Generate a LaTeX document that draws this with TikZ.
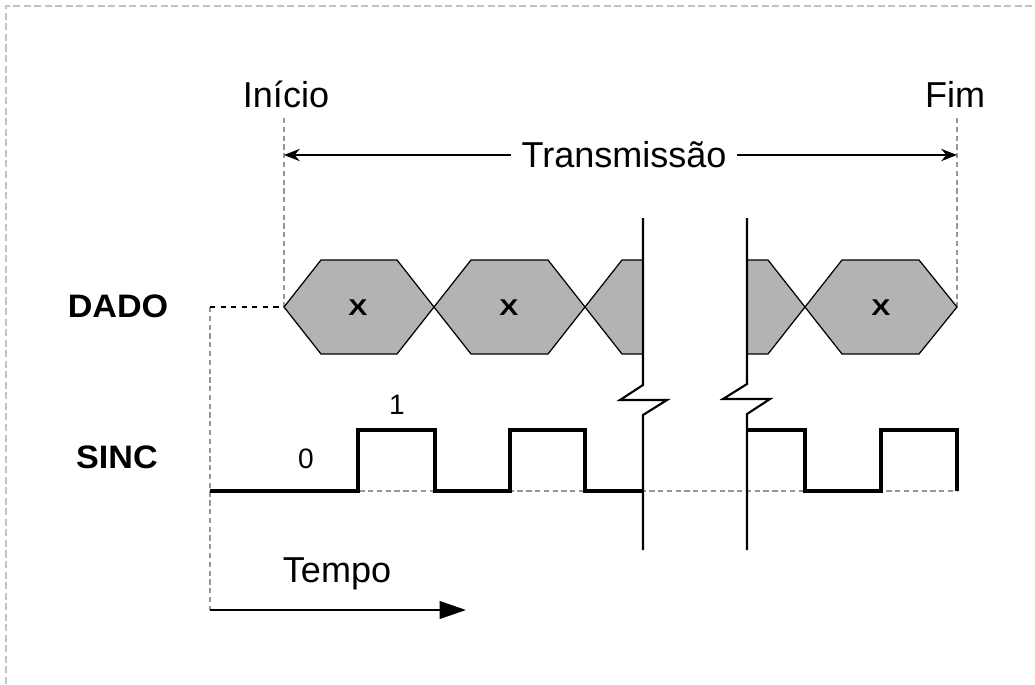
\documentclass[tikz,border=0pt]{standalone}
\usepackage{fontspec}
\setmainfont{Liberation Sans}
\usetikzlibrary{arrows.meta}

\begin{document}
\begin{tikzpicture}[x=0.02cm,y=-0.02cm,every node/.style={inner sep=0pt, outer sep=0pt},
  hexa/.style={fill={rgb,255:red,179;green,179;blue,179},draw=black,line width=0.7pt},
  guide/.style={draw={rgb,255:red,150;green,150;blue,150},dash pattern=on 3pt off 2pt,line width=0.9pt},
  wave/.style={line width=2.3pt},
  cut/.style={line width=1.2pt},
  big/.style={font=\fontsize{20.5}{24}\selectfont},
  tag/.style={font=\fontsize{18.5}{22}\selectfont\bfseries,xscale=1.05},
  bit/.style={font=\fontsize{13}{15}\selectfont\bfseries,xscale=1.25}]
\useasboundingbox (0,0) rectangle (1035,684);
\draw[draw={rgb,255:red,195;green,195;blue,195},dash pattern=on 4pt off 2pt,line width=0.6pt] (6,684) -- (6,6) -- (1035,6);
% pontos de referencia
\coordinate (ini) at (284,307);
\coordinate (iniTop) at (284,118);
\coordinate (iniSeta) at (284,155);
\coordinate (fim) at (957,307);
\coordinate (fimTop) at (957,118);
\coordinate (fimSeta) at (957,155);
\coordinate (orig) at (210,307);
\coordinate (base) at (210,491);
\coordinate (baseFim) at (957,491);
\coordinate (eixo) at (210,610);
\coordinate (eixoFim) at (466,610);
% textos
\node[big] (inicio) at (286,94) {Início};
\node[big] (fimtxt) at (955,94) {Fim};
\node[big,inner sep=6pt] (transm) at (624,155) {Transmissão};
\node[tag] (dado) at (118,306) {DADO};
\node[tag] (sinc) at (117,457) {SINC};
\node[font=\fontsize{16}{19}\selectfont] (zero) at (306,459) {0};
\node[font=\fontsize{16}{19}\selectfont] (um) at (397,405) {1};
\node[big] (tempo) at (337,574) {Tempo};
% guias
\draw[guide] (iniTop) -- (ini);
\draw[guide] (fimTop) -- (fim);
\draw[guide] (orig) -- (eixo);
\draw[guide] (base) -- (baseFim);
\draw[black,dashed,line width=0.9pt] (orig) -- (ini);
\draw[-{Stealth[length=9pt,width=7pt]},line width=0.8pt] (transm.west) -- (iniSeta);
\draw[-{Stealth[length=9pt,width=7pt]},line width=0.8pt] (transm.east) -- (fimSeta);
\draw[-{Triangle[length=15pt,width=10pt]},line width=1.2pt] (eixo) -- (eixoFim);
% dados
\draw[hexa] (284,307) -- (321,260) -- (397,260) -- (434,307) -- (397,354) -- (321,354) -- cycle;
\draw[hexa] (434,307) -- (471,260) -- (548,260) -- (585,307) -- (548,354) -- (471,354) -- cycle;
\draw[hexa] (585,307) -- (622,260) -- (643,260) -- (643,354) -- (622,354) -- cycle;
\draw[hexa] (805,307) -- (768,260) -- (747,260) -- (747,354) -- (768,354) -- cycle;
\draw[hexa] (805,307) -- (842,260) -- (919,260) -- (957,307) -- (919,354) -- (842,354) -- cycle;
\node[bit] (x1) at (358,308) {X};
\node[bit] (x2) at (509,308) {X};
\node[bit] (x3) at (881,308) {X};
% sincronismo
\draw[wave] (base) -- (358,491) -- (358,430) -- (435,430) -- (435,491) -- (510,491) -- (510,430) -- (585,430) -- (585,491) -- (643,491);
\draw[wave] (747,430) -- (805,430) -- (805,491) -- (881,491) -- (881,430) -- (957,430) -- (baseFim);
% quebras
\draw[cut] (643,218) -- (643,385) -- (620,400) -- (667,400) -- (643,415) -- (643,550);
\draw[cut] (747,218) -- (747,384) -- (723,399) -- (770,399) -- (747,414) -- (747,550);
\end{tikzpicture}
\end{document}
